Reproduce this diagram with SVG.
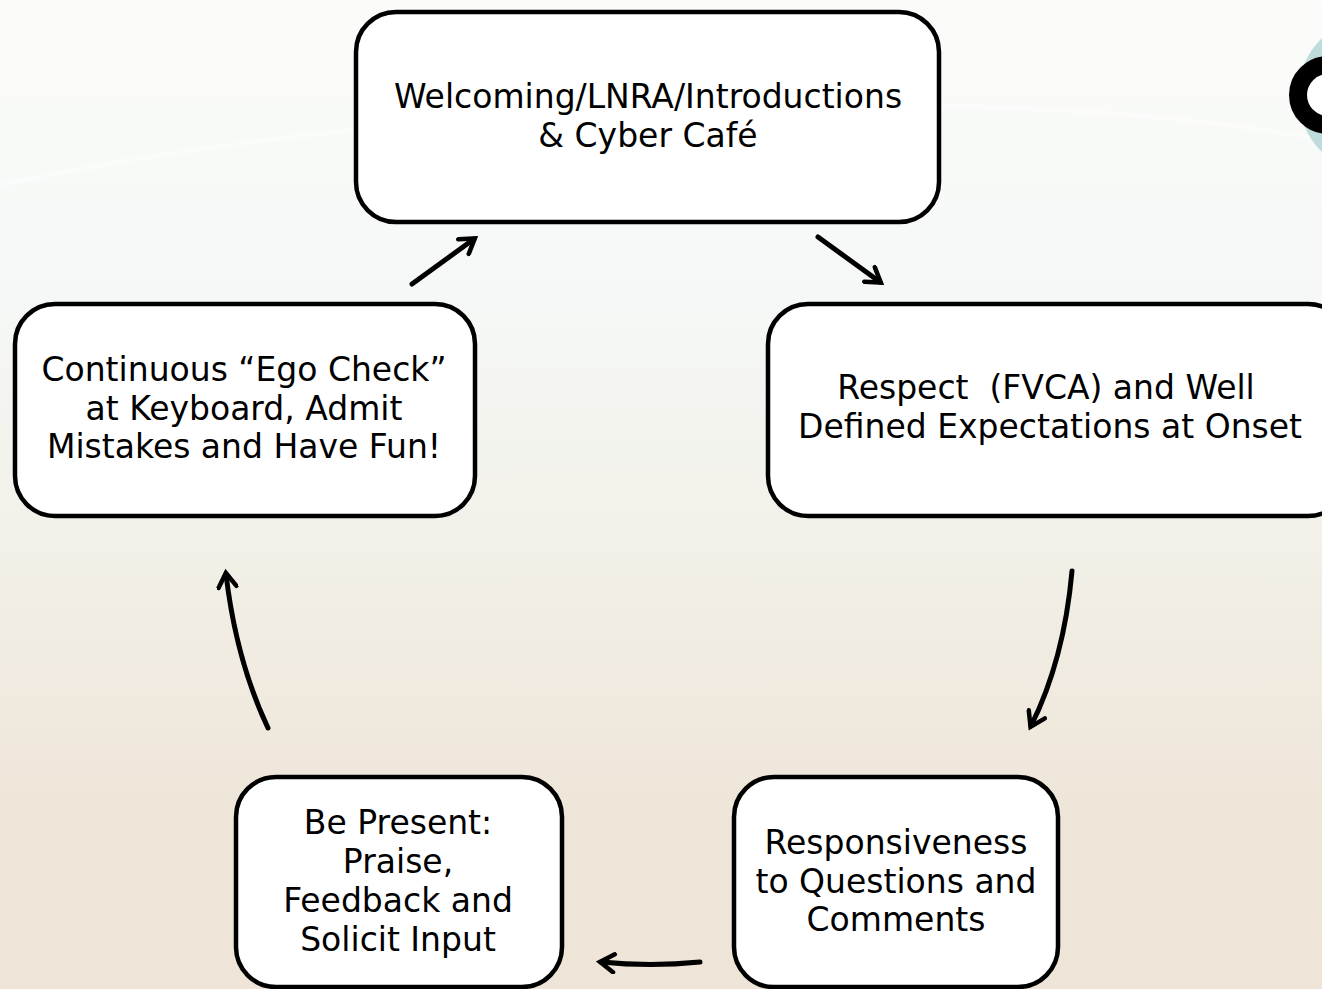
<svg xmlns="http://www.w3.org/2000/svg" width="1322" height="989" viewBox="0 0 1322 989">
<defs>
<linearGradient id="bg" x1="0" y1="0" x2="0" y2="1">
<stop offset="0" stop-color="#fbfcfa"/>
<stop offset="0.3" stop-color="#f5f8f6"/>
<stop offset="0.55" stop-color="#f2f0e8"/>
<stop offset="0.8" stop-color="#efe6da"/>
<stop offset="1" stop-color="#eee4d8"/>
</linearGradient>
<marker id="ah" viewBox="0 0 22 22" refX="16" refY="11" markerWidth="22" markerHeight="22" markerUnits="userSpaceOnUse" orient="auto">
<path d="M3,2 L17,11 L3,20" fill="none" stroke="#000" stroke-width="4.5" stroke-linecap="round" stroke-linejoin="miter"/>
</marker>
<style>
.box{fill:#fff;stroke:#000;stroke-width:4.5}
.t{font-family:"DejaVu Sans",Verdana,sans-serif;font-size:33px;fill:#000;text-anchor:middle}
.c{fill:none;stroke:#000;stroke-width:5;stroke-linecap:round;marker-end:url(#ah)}
</style>
</defs>
<rect width="1322" height="989" fill="url(#bg)"/>
<path d="M0,185 Q300,120 700,108 T1322,140" fill="none" stroke="#ffffff" stroke-width="5" opacity="0.35"/>
<circle cx="1378" cy="95" r="80" fill="#bfdcdc"/>
<circle cx="1328" cy="95" r="30" fill="#fff" stroke="#000" stroke-width="18"/>

<g id="connectors">
<path class="c" d="M412,284 L474,239"/>
<path class="c" d="M818,237 L880,282"/>
<path class="c" d="M1072,571 Q1064,660 1031,726"/>
<path class="c" d="M700,962 Q650,967 601,962"/>
<path class="c" d="M268,728 Q236,660 226,574"/>
</g>

<g id="n1">
<rect class="box" x="356" y="12" width="583" height="210" rx="40"/>
<text class="t" x="648" y="108">Welcoming/LNRA/Introductions</text>
<text class="t" x="648" y="147">&amp; Cyber Café</text>
</g>
<g id="n2">
<rect class="box" x="768" y="304" width="580" height="212" rx="40"/>
<text class="t" x="1046" y="399" xml:space="preserve">Respect  (FVCA) and Well</text>
<text class="t" x="1050" y="438">Defined Expectations at Onset</text>
</g>
<g id="n3">
<rect class="box" x="734" y="777" width="324" height="210" rx="40"/>
<text class="t" x="896" y="854">Responsiveness</text>
<text class="t" x="896" y="893">to Questions and</text>
<text class="t" x="896" y="931">Comments</text>
</g>
<g id="n4">
<rect class="box" x="236" y="777" width="326" height="210" rx="40"/>
<text class="t" x="398" y="834">Be Present:</text>
<text class="t" x="398" y="873">Praise,</text>
<text class="t" x="398" y="912">Feedback and</text>
<text class="t" x="398" y="951">Solicit Input</text>
</g>
<g id="n5">
<rect class="box" x="15" y="304" width="460" height="212" rx="40"/>
<text class="t" x="244" y="381">Continuous “Ego Check”</text>
<text class="t" x="244" y="420">at Keyboard, Admit</text>
<text class="t" x="244" y="458">Mistakes and Have Fun!</text>
</g>
</svg>
